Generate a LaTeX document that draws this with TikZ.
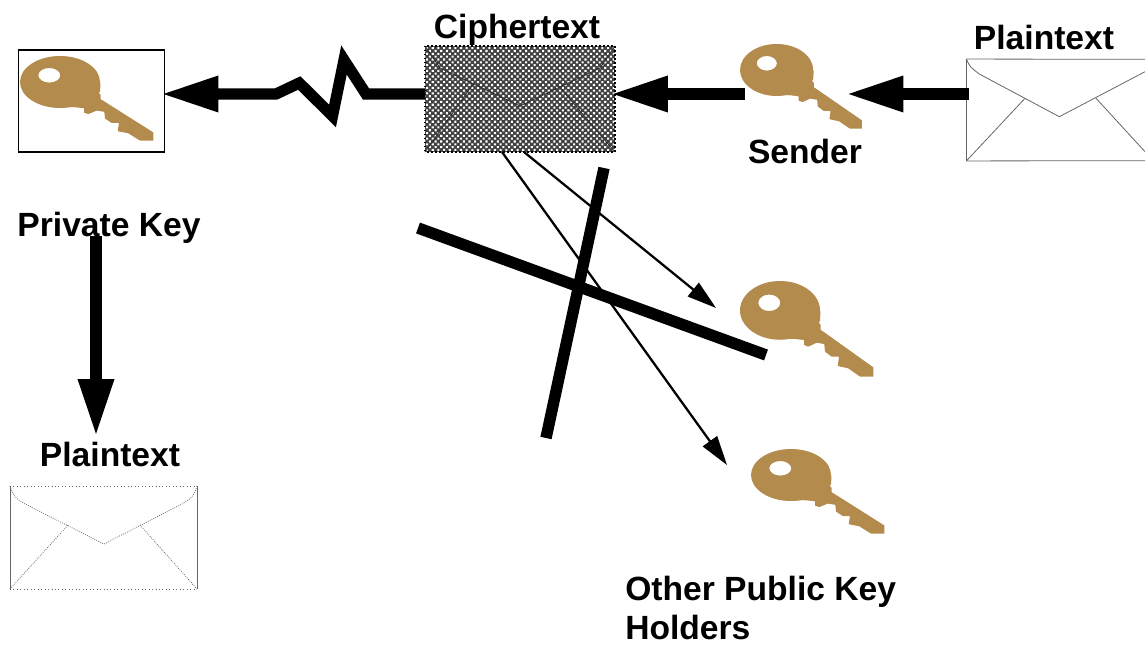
\documentclass[tikz,border=0pt]{standalone}
\usepackage{fontspec}
\setmainfont{Liberation Sans}
\usepackage{tikz}
\usetikzlibrary{arrows.meta,patterns.meta}
\definecolor{keybrown}{RGB}{179,139,77}
\begin{document}
\begin{tikzpicture}[%
		x=0.75pt,
		y=-0.75pt,
		every node/.style={font=\fontsize{25.2}{30}\selectfont\bfseries},
		label/.style={inner sep=0pt},
		fat/.style={%
			line width=8.4pt,
			shorten >=-3.3pt,
			-{Triangle[length=43pt,width=25pt]}
		},
		thin/.style={%
			line width=1.7pt,
			-{Triangle[length=22pt,width=13pt]}
		},
		bar/.style={line width=8.6pt},
		box/.style={inner sep=0pt},
		fold/.style={draw=black!60,line width=0.6pt},
		key/.pic={%
			\fill[keybrown,even odd rule] (40,26) ellipse [x radius=40,y radius=26]
				(29.3,19.3) ellipse [x radius=11,y radius=7.3];
			\fill[keybrown,rounded corners=0.3pt] (70,12) -- (80.5,27) -- (80,35.7) -- (78.5,36.5) -- (80.7,39)
				-- (80.7,43.5) -- (82,44) -- (133.3,76.4)
				-- (133.3,84.6) -- (120,84.6) -- (108.3,77.3) -- (97.7,75.2) -- (99,67)
				-- (91.7,67) -- (85,62.5) -- (84.3,55.8) -- (76.7,54.6) -- (68.3,58.1) -- (64,56.6)
				-- (64,52.2) -- (55,51.3) -- (45,51) -- cycle;
		}
		]
		\clip (0,0) rectangle (1145,645);

		% boxes
		\node[box,draw,line width=1.3pt,minimum width=109.5pt,minimum height=76pt] (private) at (91.5,101) {};
		\node[box,minimum width=142pt,minimum height=79pt] (cipher) at (520,99) {};
		\node[box,minimum width=140pt,minimum height=76pt] (plainin) at (1060,110) {};
		\node[box,minimum width=140pt,minimum height=77pt] (plainout) at (103.5,537.5) {};
		\node[box,minimum width=79pt,minimum height=40pt] (sender) at (797.5,94) {};

		% keys
		\pic at (20,56) {key};
		\pic[xscale=0.915] at (740,44) {key};
		\pic[yscale=1.13] at (740,281) {key};
		\pic at (751,449) {key};

		% ciphertext
		\fill[black!75] (cipher.north west) rectangle (cipher.south east);
		\fill[pattern={Dots[distance=3pt,radius=1.1pt,angle=45]},pattern color=white]
			(cipher.north west) rectangle (cipher.south east);
		\draw[fold,black!80,line width=0.7pt] (cipher.north west) -- (440,68) -- (520,106) -- (600,68) -- (cipher.north east);
		\draw[fold,black!80,line width=0.7pt] (cipher.south west) -- (473,84) (557,84) -- (cipher.south east);
		\draw[black,dotted,line width=1pt] (cipher.north west) rectangle (cipher.south east);

		% plaintext going in
		\draw[fold] (plainin.south west) -- (plainin.north west) -- (1145,59.3);
		\draw[fold] (plainin.south west) -- (1145,160.7);
		\draw[fold] (plainin.north west) .. controls (970,67) .. (979.3,74) -- (1059.3,116.7) -- (1145,71.7);
		\draw[fold] (plainin.south west) -- (1025,98.3) (1096,98.3) -- (1145,151.7);

		% plaintext coming out
		\draw[fold] (plainout.north west) -- (plainout.south west) (plainout.north east) -- (plainout.south east);
		\draw[fold,dotted] (plainout.north west) -- (plainout.north east) (plainout.south west) -- (plainout.south east);
		\draw[fold,densely dotted] (plainout.north west) .. controls (14,497) .. (25,504) -- (104,544) -- (182,504)
			.. controls (193,497) .. (plainout.north east);
		\draw[fold,densely dotted] (plainout.south west) -- (68,525) (140,525) -- (plainout.south east);

		% labels
		\node[label] (ciphertext) at (517,30) {Ciphertext};
		\node[label] (plainlabel) at (1044,37) {Plaintext};
		\node[label] (senderlabel) at (805,151) {Sender};
		\node[label] (privatelabel) at (109,228) {Private Key};
		\node[label] (outlabel) at (110,454) {Plaintext};
		\node[label,anchor=north west,align=left,font=\fontsize{25.2}{30}\selectfont\bfseries] (holders) at (625,576) {Other Public Key\\[-1pt]Holders};

		% free ends
		\coordinate (down) at (96,432);
		\coordinate (a) at (716,308);
		\coordinate (b) at (727,465);
		\coordinate (c) at (502,152);
		\coordinate (d) at (524,152);
		\coordinate (e) at (418,228);
		\coordinate (f) at (766,355);
		\coordinate (g) at (604,168);
		\coordinate (h) at (546,438);
		\coordinate (start) at (969,94);

		% arrows
		\draw[fat] (start) -- (sender.east);
		\draw[fat] (sender.west) -- (cipher.east |- sender);
		\draw[fat] (cipher.west |- sender) -- (366,94) -- (344,60) -- (332.5,116) -- (299.3,83) -- (276,94) -- (private.east |- sender);
		\draw[fat] (96,236) -- (down);
		\draw[thin] (d) -- (a);
		\draw[thin] (c) -- (b);
		\draw[bar] (e) -- (f);
		\draw[bar] (g) -- (h);
		\end{tikzpicture}
\end{document}
